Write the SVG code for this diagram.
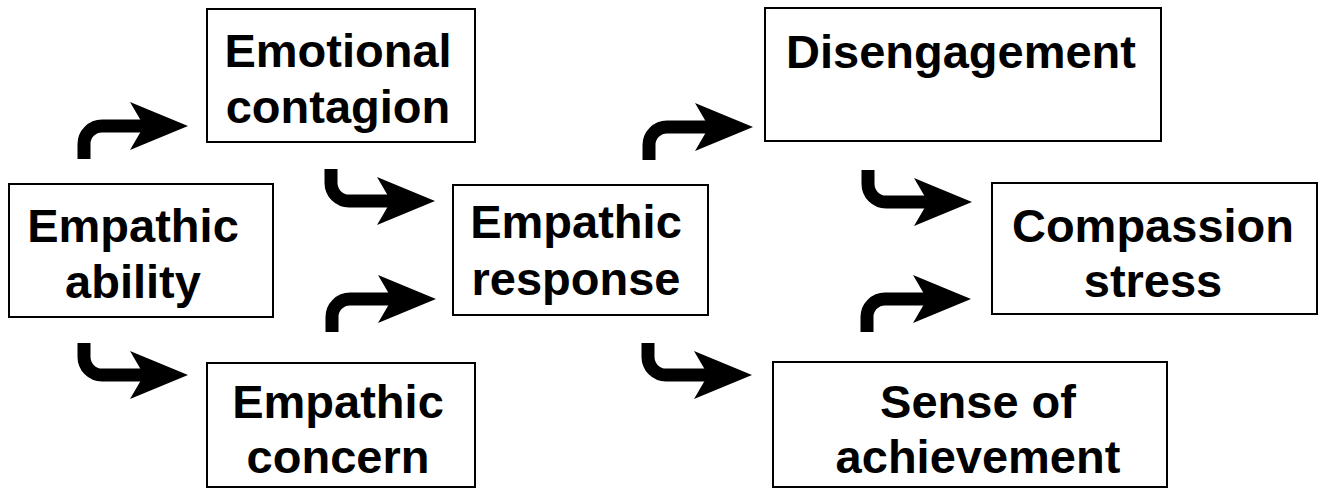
<svg xmlns="http://www.w3.org/2000/svg" xmlns:xlink="http://www.w3.org/1999/xlink" width="1328" height="489" viewBox="0 0 1328 489">
<style>
.box{fill:#fff;stroke:#000;stroke-width:2}
.t{font-family:"Liberation Sans",Arial,sans-serif;font-weight:bold;font-size:47px;fill:#000;text-anchor:middle}
.stem{fill:none;stroke:#000;stroke-width:13}
.head{fill:#000}
</style>
<defs>
<g id="arrUp">
<path class="stem" d="M -104 33 V 18 A 18 18 0 0 1 -86 0 H -40"/>
<polygon class="head" points="0,0 -58,-24 -44,0 -58,24"/>
</g>
<g id="arrDown">
<path class="stem" d="M -104 -32 V -18 A 18 18 0 0 0 -86 0 H -40"/>
<polygon class="head" points="0,0 -58,-24 -44,0 -58,24"/>
</g>
</defs>
<rect width="1328" height="489" fill="#fff"/>
<g id="connectors">
<use xlink:href="#arrUp" href="#arrUp" transform="translate(188,126)"/>
<use xlink:href="#arrDown" href="#arrDown" transform="translate(188,375)"/>
<use xlink:href="#arrDown" href="#arrDown" transform="translate(435,201)"/>
<use xlink:href="#arrUp" href="#arrUp" transform="translate(436,299)"/>
<use xlink:href="#arrUp" href="#arrUp" transform="translate(753,127)"/>
<use xlink:href="#arrDown" href="#arrDown" transform="translate(752,375)"/>
<use xlink:href="#arrDown" href="#arrDown" transform="translate(972,202)"/>
<use xlink:href="#arrUp" href="#arrUp" transform="translate(971,299)"/>
</g>
<g id="empathic-ability">
<rect class="box" x="9" y="184" width="264" height="133"/>
<text class="t" x="133" y="242">Empathic</text>
<text class="t" x="133" y="298">ability</text>
</g>
<g id="emotional-contagion">
<rect class="box" x="207" y="9" width="268" height="133"/>
<text class="t" x="338" y="67">Emotional</text>
<text class="t" x="338" y="123">contagion</text>
</g>
<g id="empathic-concern">
<rect class="box" x="207" y="363" width="268" height="124"/>
<text class="t" x="338" y="418">Empathic</text>
<text class="t" x="338" y="473">concern</text>
</g>
<g id="empathic-response">
<rect class="box" x="453" y="185" width="255" height="130"/>
<text class="t" x="576" y="238">Empathic</text>
<text class="t" x="576" y="295">response</text>
</g>
<g id="disengagement">
<rect class="box" x="765" y="8" width="396" height="133"/>
<text class="t" x="961" y="68">Disengagement</text>
</g>
<g id="compassion-stress">
<rect class="box" x="992" y="183" width="325" height="131"/>
<text class="t" x="1153" y="242">Compassion</text>
<text class="t" x="1153" y="297">stress</text>
</g>
<g id="sense-of-achievement">
<rect class="box" x="773" y="362" width="394" height="125"/>
<text class="t" x="978" y="418">Sense of</text>
<text class="t" x="978" y="473">achievement</text>
</g>
</svg>
